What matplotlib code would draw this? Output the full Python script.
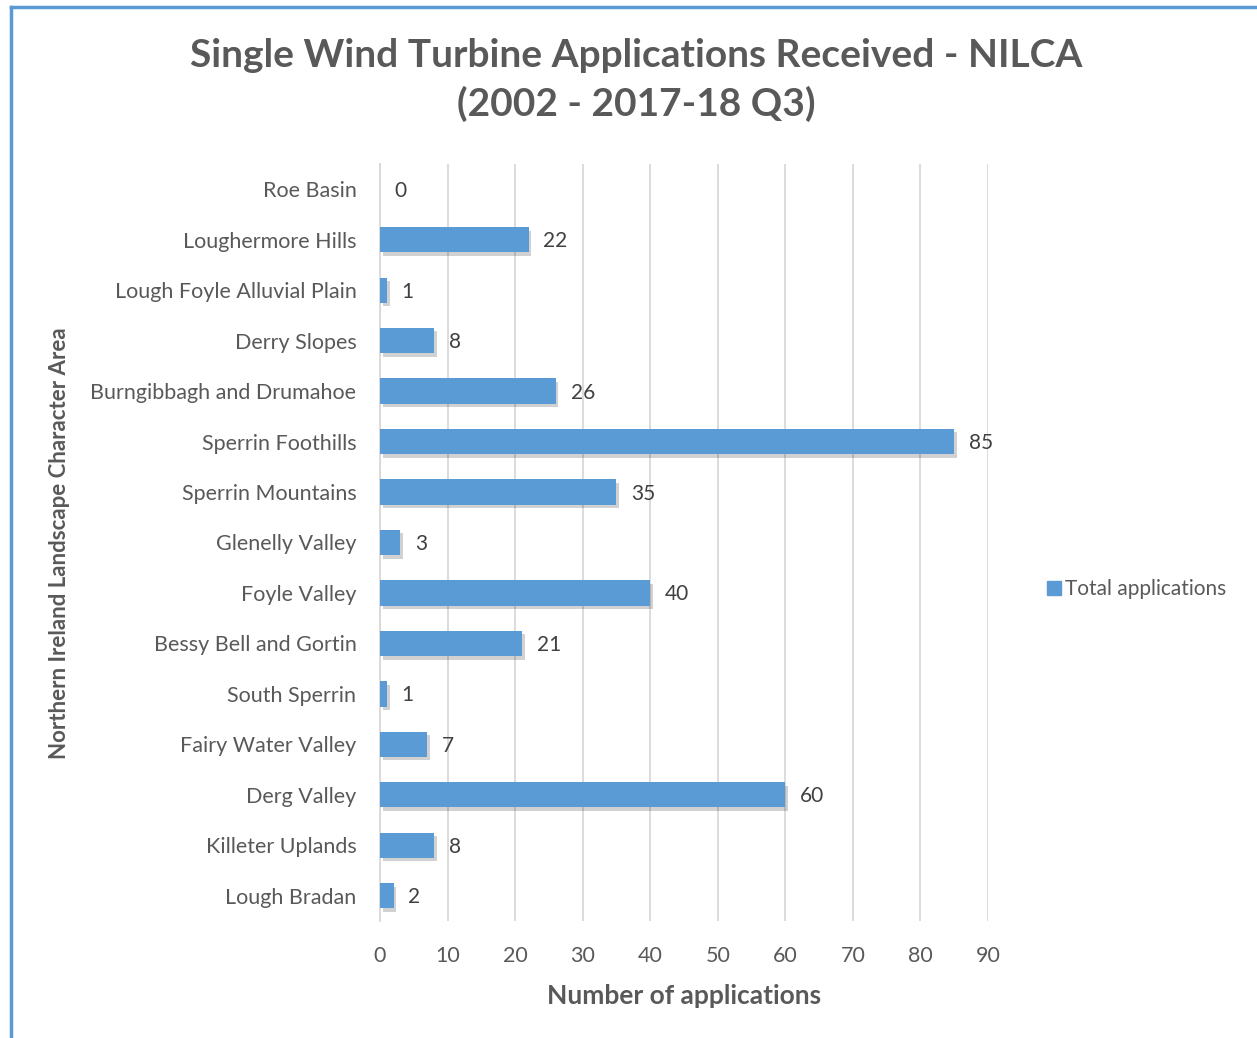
import matplotlib.pyplot as plt
import matplotlib.patheffects as pe
from matplotlib.lines import Line2D

plt.rcParams['font.family'] = ['Lato', 'DejaVu Sans']

areas = ["Roe Basin", "Loughermore Hills", "Lough Foyle Alluvial Plain", "Derry Slopes",
         "Burngibbagh and Drumahoe", "Sperrin Foothills", "Sperrin Mountains", "Glenelly Valley",
         "Foyle Valley", "Bessy Bell and Gortin", "South Sperrin", "Fairy Water Valley",
         "Derg Valley", "Killeter Uplands", "Lough Bradan"]
applications = [0, 22, 1, 8, 26, 85, 35, 3, 40, 21, 1, 7, 60, 8, 2]
x_ticks = [0, 10, 20, 30, 40, 50, 60, 70, 80, 90]

text_col = '#595959'
bar_col = '#5B9BD5'

fig = plt.figure(figsize=(12.57, 10.38), dpi=100)
ax = fig.add_axes([380 / 1257, 1 - 921 / 1038, 608 / 1257, 757 / 1038])

y = list(range(len(areas)))
bars = ax.barh(y, applications, height=0.5, color=bar_col, zorder=3,
               path_effects=[pe.SimplePatchShadow(offset=(2, -2.5), shadow_rgbFace='#000000', alpha=0.18),
                             pe.Normal()])

# data labels
for yi, v in zip(y, applications):
    ax.text(v + 2.2, yi + 0.03, str(v), va='center', ha='left', fontsize=15, color='#404040')

ax.set_xlim(0, 90)
ax.set_ylim(len(areas) - 0.5, -0.5)
ax.set_xticks(x_ticks)
ax.set_yticks(y)
ax.set_yticklabels(areas)
ax.tick_params(axis='both', length=0, labelsize=15.5, colors=text_col)
ax.tick_params(axis='y', pad=17)
ax.tick_params(axis='x', pad=18)
ax.grid(axis='x', color='#D9D9D9', linewidth=1.3, zorder=0)
for s in ['top', 'right', 'bottom']:
    ax.spines[s].set_visible(False)
ax.spines['left'].set_color('#D9D9D9')
ax.spines['left'].set_linewidth(1.3)

ax.set_xlabel('Number of applications', fontsize=19, fontweight='bold', color=text_col, labelpad=13)
fig.text(60 / 1257, 1 - 543 / 1038, 'Northern Ireland Landscape Character Area', rotation=90,
         ha='center', va='center', fontsize=16, fontweight='bold', color=text_col)

fig.text(636 / 1257, 1 - 80 / 1038, 'Single Wind Turbine Applications Received - NILCA\n(2002 - 2017-18 Q3)',
         ha='center', va='center', fontsize=28, fontweight='bold', color=text_col, linespacing=1.45)

handle = Line2D([], [], marker='s', linestyle='none', markersize=10, color=bar_col)
fig.legend([handle], ['Total applications'], loc='center left', bbox_to_anchor=(1030 / 1257, 1 - 589 / 1038),
           frameon=False, fontsize=15, labelcolor=text_col, handletextpad=-0.2, handlelength=1.5,
           borderaxespad=0)

# blue frame lines at left and top
fig.add_artist(Line2D([11 / 1257, 11 / 1257], [0, 1 - 7 / 1038], color='#5B9BD5', linewidth=2.5))
fig.add_artist(Line2D([11 / 1257, 1], [1 - 7 / 1038, 1 - 7 / 1038], color='#5B9BD5', linewidth=2.5))

fig.savefig('out.png', dpi=100)
